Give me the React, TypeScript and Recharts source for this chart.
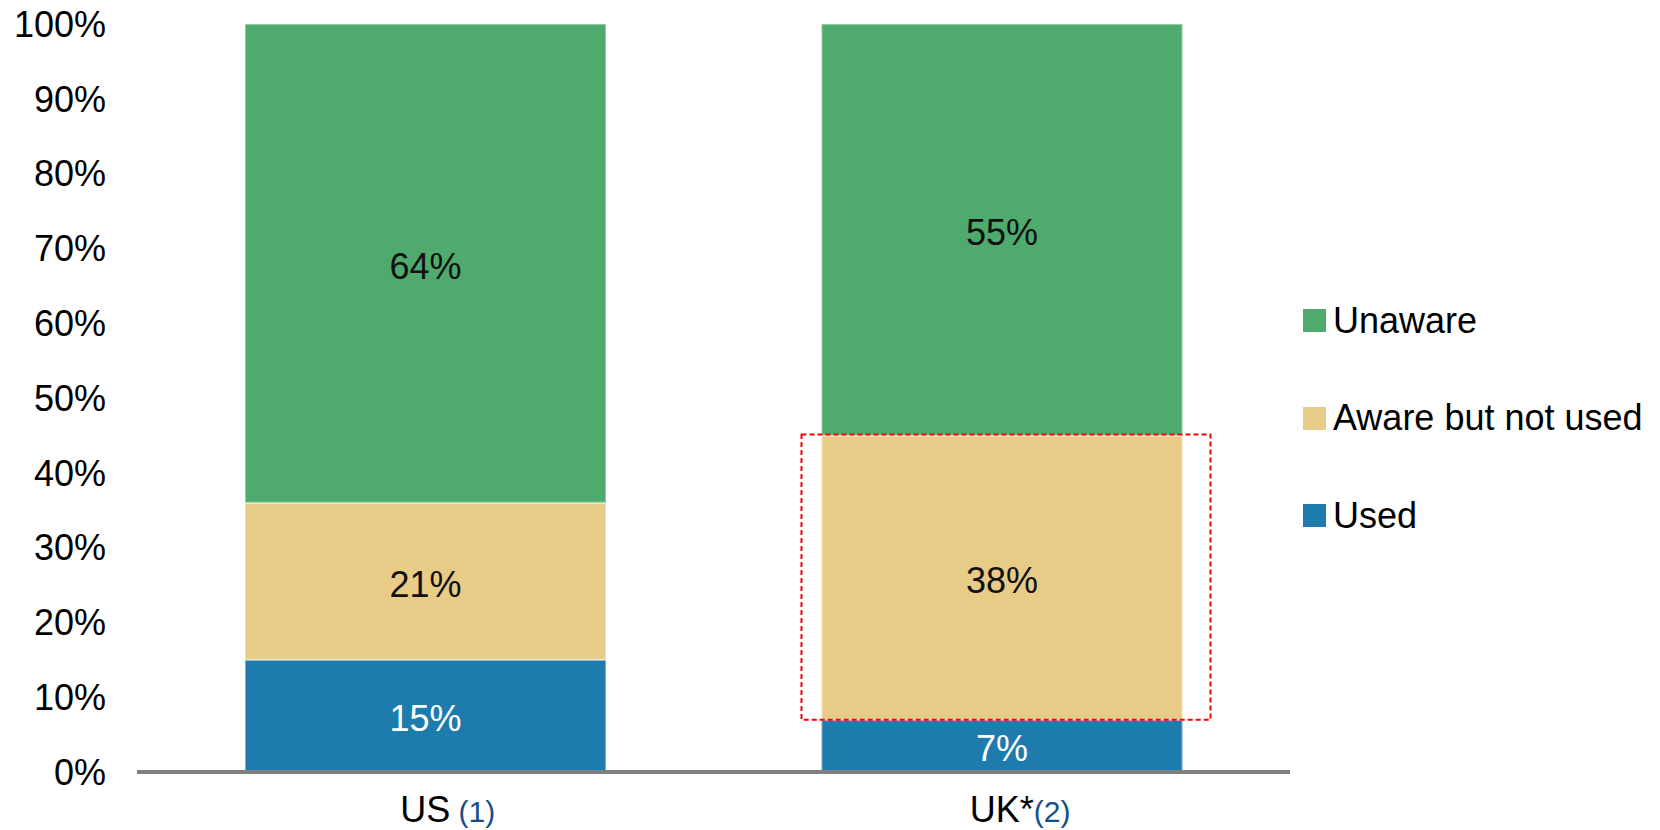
import React, { useLayoutEffect, useRef, useState } from 'react';
import { BarChart, Bar, XAxis, YAxis, LabelList, Legend } from 'recharts';

const categories = ['US', 'UK*'];
const footnotes = ['\u00A0(1)', '(2)'];
const used = [15, 7];
const awareNotUsed = [21, 38];
const unaware = [64, 55];
const yTicks = [0, 10, 20, 30, 40, 50, 60, 70, 80, 90, 100];
const highlighted = 'UK*';

const series = [
  { key: 'used', name: 'Used', color: '#1e7bad', labelColor: '#ffffff' },
  { key: 'aware', name: 'Aware but not used', color: '#e8cb86', labelColor: '#111111' },
  { key: 'unaware', name: 'Unaware', color: '#4eab6d', labelColor: '#111111' },
];

const data = categories.map((name, i) => ({
  name,
  used: used[i],
  aware: awareNotUsed[i],
  unaware: unaware[i],
}));

const BAR_SIZE = 361;
const hi = categories.indexOf(highlighted);

const XTick = (props: any) => {
  const { x, y, payload } = props;
  const ref = useRef<SVGTextElement>(null);
  const [w, setW] = useState(0);
  useLayoutEffect(() => {
    if (ref.current) setW(ref.current.getComputedTextLength());
  }, [payload.value]);
  const note = footnotes[categories.indexOf(payload.value)];
  return (
    <g>
      <text ref={ref} x={x} y={y + 50} textAnchor="middle" fontSize={36} fill="#000">
        {payload.value}
      </text>
      <text x={x + w / 2} y={y + 50} fontSize={30} fill="#164f85">
        {note}
      </text>
    </g>
  );
};

// label for each segment; the highlighted aware segment also gets the red dashed box
const makeLabel = (key: string, color: string) => (p: any) => {
  const { x, y, width, height, value, index } = p;
  const boxed = key === 'aware' && index === hi;
  return (
    <g>
      {boxed && (
        <rect
          x={x - 20}
          y={y - 1}
          width={width + 48}
          height={height + 1}
          fill="none"
          stroke="#ff0000"
          strokeWidth={2}
          strokeDasharray="5 3"
        />
      )}
      <text
        x={x + width / 2}
        y={y + height / 2 + 3}
        textAnchor="middle"
        dominantBaseline="central"
        fontSize={36}
        fill={color}
      >
        {`${value}%`}
      </text>
    </g>
  );
};

const LegendContent = () => (
  <div>
    {[...series].reverse().map((s) => (
      <div key={s.key} style={{ height: 97.5, display: 'flex', alignItems: 'center' }}>
        <div style={{ width: 23, height: 23, background: s.color, marginRight: 7 }} />
        <span style={{ fontSize: 36, color: '#000', whiteSpace: 'nowrap' }}>{s.name}</span>
      </div>
    ))}
  </div>
);

export default function App() {
  return (
    <div
      style={{
        position: 'absolute',
        left: 0,
        top: 0,
        width: 1660,
        height: 830,
        background: '#fff',
        fontFamily: '"Liberation Sans", Arial, sans-serif',
      }}
    >
      <BarChart width={1660} height={830} data={data} margin={{ top: 24, right: 13, bottom: 0, left: 0 }}>
        <XAxis
          dataKey="name"
          height={58}
          interval={0}
          tickLine={false}
          tickSize={0}
          tickMargin={0}
          axisLine={{ stroke: '#808080', strokeWidth: 4 }}
          tick={<XTick />}
        />
        <YAxis
          width={137}
          domain={[0, 100]}
          ticks={yTicks}
          tickFormatter={(v) => `${v}%`}
          axisLine={false}
          tickLine={false}
          tickSize={0}
          tickMargin={31}
          tick={{ fontSize: 36, fill: '#000' }}
        />
        {series.map((s) => (
          <Bar
            key={s.key}
            dataKey={s.key}
            name={s.name}
            stackId="a"
            fill={s.color}
            barSize={BAR_SIZE}
            stroke="#ffffff"
            strokeOpacity={0.4}
            strokeWidth={2}
            isAnimationActive={false}
          >
            <LabelList dataKey={s.key} content={makeLabel(s.key, s.labelColor)} />
          </Bar>
        ))}
        <Legend
          layout="vertical"
          align="right"
          verticalAlign="middle"
          wrapperStyle={{ left: 1303, top: 272, width: 357 }}
          content={() => <LegendContent />}
        />
      </BarChart>
    </div>
  );
}
